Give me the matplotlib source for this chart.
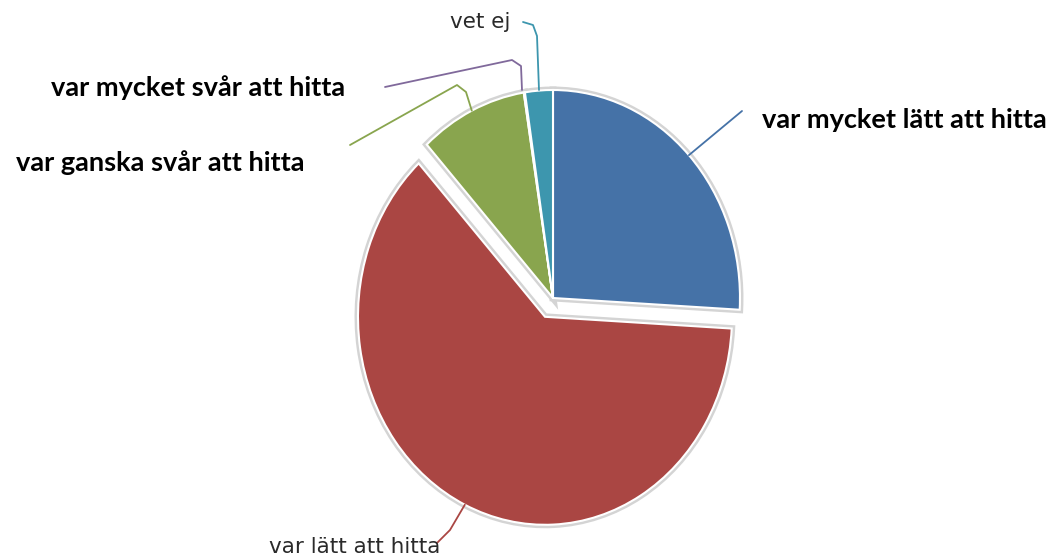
import matplotlib.pyplot as plt
import numpy as np

labels = ['var mycket lätt att hitta', 'var lätt att hitta', 'var ganska svår att hitta',
          'var mycket svår att hitta', 'vet ej']
values = [25.9, 62.3, 9.3, 0.1, 2.4]
colors = ['#4572A7', '#AA4643', '#89A54E', '#80699B', '#3D96AE']
explode = [0, 0.1, 0, 0, 0]

W, H = 1055, 556
CX, CY = 553, 298      # pie centre in pixels
RX, RY = 187, 208      # pie radii in pixels (the chart is stretched vertically)


def px(x, y):
    """pixel position (from top-left) -> data coords"""
    return (x - CX) / RX, (CY - y) / RY


fig = plt.figure(figsize=(W / 100, H / 100), dpi=100)
ax = fig.add_axes([0, 0, 1, 1])

# grey halo underneath, then the real wedges with white borders
ax.pie(values, startangle=90, counterclock=False, explode=explode, colors=['#d4d4d4'] * 5,
       wedgeprops=dict(edgecolor='#d4d4d4', linewidth=5))
wedges, _ = ax.pie(values, startangle=90, counterclock=False, explode=explode, colors=colors,
                   wedgeprops=dict(edgecolor='white', linewidth=1.5))

ax.set_aspect('auto')
ax.set_xlim(-CX / RX, (W - CX) / RX)
ax.set_ylim(-(H - CY) / RY, CY / RY)
ax.axis('off')


def edge_point(w):
    ang = np.deg2rad((w.theta1 + w.theta2) / 2)
    cx, cy = w.center
    return cx + w.r * np.cos(ang), cy + w.r * np.sin(ang)


# leader lines: from wedge edge through bend to label end (pixel coords)
leaders = {
    0: [(742, 111)],
    1: [(450, 530), (437, 543)],
    2: [(466, 92), (457, 85), (350, 145)],
    3: [(521, 66), (512, 60), (385, 87)],
    4: [(537, 36), (533, 25), (523, 22)],
}
for i, pts in leaders.items():
    if i == 3:
        start = px(522, 90)
    elif i == 4:
        start = px(539, 90)
    else:
        start = edge_point(wedges[i])
    xs = [start[0]] + [px(*p)[0] for p in pts]
    ys = [start[1]] + [px(*p)[1] for p in pts]
    ax.plot(xs, ys, color=colors[i], lw=1.3, solid_capstyle='round')

bold = dict(fontfamily='Lato', fontweight='bold', fontsize=19.5, color='black', va='center')
small = dict(fontfamily='DejaVu Sans', fontsize=15.5, color='#2a2a2a', va='center')

ax.text(*px(762, 120), labels[0], ha='left', **bold)
ax.text(*px(305, 163), labels[2], ha='right', **bold)
ax.text(*px(345, 88), labels[3], ha='right', **bold)
ax.text(*px(440, 547), labels[1], ha='right', **small)
ax.text(*px(510, 22), labels[4], ha='right', **small)

fig.savefig('out.png', dpi=100)
